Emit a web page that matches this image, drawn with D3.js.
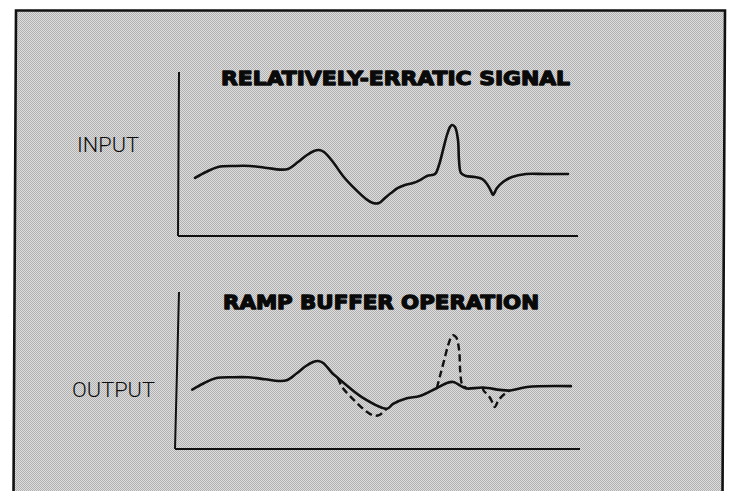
<!DOCTYPE html>
<html>
<head>
<meta charset="utf-8">
<script src="https://cdn.jsdelivr.net/npm/d3@7/dist/d3.min.js"></script>
<style>
  html, body { margin: 0; padding: 0; background: #fff; }
  svg { display: block; }
</style>
</head>
<body>
<svg id="chart" width="732" height="491"></svg>
<script>
// Time axis in arbitrary units (0–100), signal level in arbitrary units (0–100).
const inputT = [4.25, 7, 10, 14.25, 18, 22.25, 25.5, 27.5, 30, 32.25, 34, 35.25, 36.5, 38.75, 41.25,
  44.25, 47, 48.75, 50.25, 51.75, 53.25, 55, 56.75, 58.75, 60.5, 62.25, 64.25, 65.25, 66.25, 67.25,
  68, 68.5, 69.25, 70, 70.25, 70.75, 72, 74.25, 76, 77.25, 78.25, 78.75, 79.75, 81.25, 83.5, 87, 91.75, 97.5];
const inputV = [35.4, 39.0, 42.1, 42.7, 42.7, 41.5, 40.5, 40.9, 45.1, 49.4, 51.8, 52.4, 51.2, 45.1, 36.6,
  28.7, 22.6, 20.1, 20.1, 23.2, 26.2, 29.3, 31.1, 32.3, 34.1, 36.6, 37.8, 43.3, 52.4, 61.6,
  66.5, 67.7, 66.5, 58.5, 46.3, 38.4, 36.6, 36.0, 34.8, 31.7, 27.4, 25.0, 29.3, 32.9, 36.0, 37.8, 37.8, 37.8];

// Ramp-buffered output: follows the input until the slew limit takes over.
const outputT = [4.25, 7, 10, 14.25, 18, 22.25, 25.5, 27.5, 30, 32.25, 34, 35.25, 36.5, 38.75, 40.1,
  46.3, 52.2, 53.7, 57.1, 60.3, 64.5, 67.0, 68.5, 70.9, 71.9, 75.9, 80.0, 82.5, 86.7, 97.5];
const outputV = [35.4, 39.0, 42.1, 42.7, 42.7, 41.5, 40.5, 40.9, 45.1, 49.4, 51.8, 52.4, 51.2, 45.1, 42.3,
  30.4, 24.0, 26.8, 30.2, 31.5, 36.3, 39.3, 39.9, 36.9, 36.0, 36.6, 35.2, 34.8, 36.9, 37.4];

// Stretches where the raw input departs from the buffered output (drawn dashed).
const bypassSpans = [[40.1, 52.2], [64.5, 71.9], [75.9, 82.5]];

const titles = ["RELATIVELY-ERRATIC SIGNAL", "RAMP BUFFER OPERATION"];
const sideLabels = ["INPUT", "OUTPUT"];

const svg = d3.select("#chart");

// halftone screen
const defs = svg.append("defs");
const pat = defs.append("pattern").attr("id", "screen")
  .attr("width", 2).attr("height", 2).attr("patternUnits", "userSpaceOnUse");
pat.append("rect").attr("width", 2).attr("height", 2).attr("fill", "#dedede");
pat.append("rect").attr("x", 0).attr("y", 0).attr("width", 1).attr("height", 1).attr("fill", "#b0b0b0");
pat.append("rect").attr("x", 1).attr("y", 1).attr("width", 1).attr("height", 1).attr("fill", "#b0b0b0");

const frame = [[16, 10.5], [725, 10.5], [722.5, 497], [13.5, 497]];
svg.append("path")
  .attr("d", "M" + frame.map(p => p.join(",")).join("L") + "Z")
  .attr("fill", "url(#screen)")
  .attr("stroke", "#111").attr("stroke-width", 2.6);

const inputData = inputT.map((t, i) => ({ t, v: inputV[i] }));
const outputData = outputT.map((t, i) => ({ t, v: outputV[i] }));

const panels = [
  { x: d3.scaleLinear().domain([0, 100]).range([178, 578]),
    y: d3.scaleLinear().domain([0, 100]).range([236, 72]),
    yAxis: [[179, 72], [178, 236]], xAxisEnd: 578,
    title: titles[0], titleX: 221, titleW: 349, titleY: 85,
    label: sideLabels[0], labelX: 77, labelW: 62, labelY: 152 },
  { x: d3.scaleLinear().domain([0, 100]).range([175, 581]),
    y: d3.scaleLinear().domain([0, 100]).range([449, 281]),
    yAxis: [[179, 292], [175, 449]], xAxisEnd: 580,
    title: titles[1], titleX: 223, titleW: 316, titleY: 309,
    label: sideLabels[1], labelX: 72, labelW: 83, labelY: 397 }
];

panels.forEach((p, idx) => {
  const g = svg.append("g");
  const line = d3.line().x(d => p.x(d.t)).y(d => p.y(d.v)).curve(d3.curveCatmullRom.alpha(0.5));

  // axes
  g.append("line")
    .attr("x1", p.yAxis[0][0]).attr("y1", p.yAxis[0][1])
    .attr("x2", p.yAxis[1][0]).attr("y2", p.yAxis[1][1])
    .attr("stroke", "#111").attr("stroke-width", 2);
  g.append("line")
    .attr("x1", p.yAxis[1][0]).attr("y1", p.y(0))
    .attr("x2", p.xAxisEnd).attr("y2", p.y(0))
    .attr("stroke", "#111").attr("stroke-width", 2);

  // title
  g.append("text")
    .attr("x", p.titleX).attr("y", p.titleY)
    .attr("textLength", p.titleW).attr("lengthAdjust", "spacingAndGlyphs")
    .style("font-family", "'DejaVu Sans', sans-serif")
    .style("font-weight", "bold").style("font-size", "19px")
    .attr("fill", "#0a0a0a").attr("stroke", "#0a0a0a").attr("stroke-width", 1.3)
    .attr("stroke-linejoin", "round")
    .text(p.title);

  // side label
  g.append("text")
    .attr("x", p.labelX).attr("y", p.labelY)
    .attr("textLength", p.labelW).attr("lengthAdjust", "spacingAndGlyphs")
    .style("font-family", "Roboto, 'Liberation Sans', sans-serif")
    .style("font-weight", "300").style("font-size", "21px")
    .attr("fill", "#0d0d0d")
    .text(p.label);

  if (idx === 0) {
    g.append("path").datum(inputData)
      .attr("d", line)
      .attr("fill", "none").attr("stroke", "#111").attr("stroke-width", 2.6)
      .attr("stroke-linejoin", "round").attr("stroke-linecap", "round");
  } else {
    bypassSpans.forEach(([a, b]) => {
      const seg = inputData.filter(d => d.t > a && d.t < b);
      const lo = outputData.find(d => d.t === a), hi = outputData.find(d => d.t === b);
      const pts = [lo, ...seg, hi].filter(Boolean);
      g.append("path").datum(pts)
        .attr("d", line)
        .attr("fill", "none").attr("stroke", "#111").attr("stroke-width", 2.4)
        .attr("stroke-dasharray", "7,4");
    });
    g.append("path").datum(outputData)
      .attr("d", line)
      .attr("fill", "none").attr("stroke", "#111").attr("stroke-width", 2.6)
      .attr("stroke-linejoin", "round").attr("stroke-linecap", "round");
  }
});
</script>
</body>
</html>
